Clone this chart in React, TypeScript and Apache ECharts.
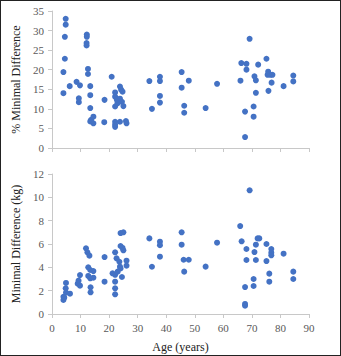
import React, { useEffect, useRef } from "react";
import * as echarts from "echarts";

const topAge = [4.8, 4.8, 4.5, 4.5, 4.0, 4.0, 6.2, 8.6, 9.8, 9.4, 9.4, 12.2, 12.2, 12.1, 12.1, 12.6, 12.6, 13.4, 13.4, 13.4, 13.7, 14.5, 14.5, 13.4, 18.4, 18.3, 20.9, 22.1, 22.1, 22.1, 22.9, 22.7, 22.1, 22.1, 22.1, 23.8, 24.2, 24.7, 23.8, 24.5, 25.0, 23.8, 25.9, 26.1, 34.1, 35.0, 37.8, 37.8, 37.8, 37.8, 45.4, 47.9, 45.4, 46.3, 46.3, 53.8, 57.8, 69.2, 66.3, 68.1, 68.1, 72.2, 75.1, 66.0, 70.9, 71.4, 75.7, 75.5, 76.5, 77.2, 76.9, 75.8, 71.4, 81.1, 84.5, 84.5, 70.6, 67.6, 70.6, 67.6];
const topPct = [33.0, 31.5, 28.4, 22.8, 19.4, 14.0, 15.8, 16.9, 16.0, 12.7, 11.7, 29.0, 28.4, 26.8, 26.2, 20.2, 18.9, 15.8, 13.5, 10.2, 7.2, 8.0, 6.3, 6.8, 12.3, 6.6, 18.2, 14.2, 13.1, 10.6, 11.4, 12.3, 6.7, 5.4, 6.0, 15.7, 14.9, 14.4, 12.6, 11.8, 10.7, 6.7, 6.9, 6.3, 17.1, 10.0, 18.2, 17.1, 13.3, 11.6, 19.4, 17.2, 15.4, 10.8, 9.0, 10.2, 16.4, 27.9, 21.7, 21.5, 20.0, 21.3, 22.8, 17.2, 18.3, 17.3, 19.5, 18.7, 18.7, 18.7, 16.7, 14.6, 14.1, 15.8, 18.5, 17.0, 10.6, 9.3, 8.0, 2.8];

const bottomAge = [4.0, 4.0, 4.3, 4.9, 4.8, 4.9, 6.3, 9.0, 9.3, 9.8, 9.8, 11.9, 12.4, 13.1, 12.7, 12.7, 13.4, 13.4, 14.5, 14.5, 13.5, 13.5, 18.4, 18.4, 22.1, 22.1, 22.1, 22.1, 22.1, 22.6, 21.2, 23.0, 23.6, 23.8, 24.0, 24.5, 24.0, 24.7, 25.0, 24.0, 25.0, 26.1, 26.1, 34.1, 35.0, 37.8, 37.8, 37.8, 45.4, 45.4, 46.1, 47.9, 46.3, 53.8, 57.8, 69.2, 65.9, 66.4, 68.1, 71.4, 72.0, 72.6, 75.1, 70.9, 76.8, 76.8, 76.8, 81.1, 68.1, 71.4, 75.1, 76.1, 76.1, 70.6, 70.6, 67.6, 84.5, 84.5, 67.6, 67.6];
const bottomKg = [1.48, 1.2, 1.4, 1.83, 2.2, 2.66, 1.74, 2.6, 2.86, 3.34, 2.43, 5.63, 5.29, 5.0, 4.0, 3.26, 3.77, 3.06, 3.68, 3.11, 2.29, 1.86, 4.88, 2.77, 5.29, 3.36, 2.77, 2.2, 1.69, 4.77, 3.49, 3.63, 4.48, 4.06, 3.91, 3.17, 5.83, 5.66, 5.46, 6.94, 7.0, 4.57, 4.14, 6.48, 4.05, 6.2, 5.9, 4.91, 7.0, 5.94, 4.65, 4.65, 3.63, 4.06, 6.11, 10.6, 7.54, 6.23, 5.57, 5.94, 6.48, 6.48, 6.0, 5.31, 5.57, 5.26, 5.03, 5.17, 4.63, 4.63, 4.54, 3.46, 2.77, 3.0, 2.4, 2.31, 3.63, 3.0, 0.86, 0.71];

const xTicks = { min: 0, max: 90, interval: 10 };
const topY = { min: 0, max: 35, interval: 5 };
const bottomY = { min: 0, max: 12, interval: 2 };

const FONT = "Liberation Serif";

export default function App() {
  const ref = useRef<HTMLDivElement>(null);
  useEffect(() => {
    if (!ref.current) return;
    const chart = echarts.init(ref.current, null, { renderer: "svg" });
    const axisLine = { show: true, lineStyle: { color: "#c8c8c8", width: 1 } };
    const axisTick = { show: true, length: 4, lineStyle: { color: "#c8c8c8" } };
    const label = { color: "#595959", fontFamily: FONT, fontSize: 11 };
    const nameStyle = { color: "#222", fontFamily: FONT, fontSize: 12 };
    chart.setOption({
      animation: false,
      grid: [
        { left: 52, top: 11, width: 257, height: 137 },
        { left: 52, top: 174, width: 257, height: 140 },
      ],
      xAxis: [
        {
          type: "value", gridIndex: 0, ...xTicks,
          axisLine, axisTick, axisLabel: { show: false }, splitLine: { show: false },
        },
        {
          type: "value", gridIndex: 1, ...xTicks,
          axisLine, axisTick, axisLabel: { ...label, margin: 8 }, splitLine: { show: false },
          name: "Age (years)", nameLocation: "middle", nameGap: 27, nameTextStyle: nameStyle,
        },
      ],
      yAxis: [
        {
          type: "value", gridIndex: 0, ...topY,
          axisLine, axisTick, axisLabel: { ...label, margin: 8 }, splitLine: { show: false },
          name: "% Minimal Difference", nameLocation: "middle", nameRotate: 90, nameGap: 27, nameTextStyle: nameStyle,
        },
        {
          type: "value", gridIndex: 1, ...bottomY,
          axisLine, axisTick, axisLabel: { ...label, margin: 8 }, splitLine: { show: false },
          name: "Minimal Difference (kg)", nameLocation: "middle", nameRotate: 90, nameGap: 27, nameTextStyle: nameStyle,
        },
      ],
      series: [
        {
          type: "scatter", xAxisIndex: 0, yAxisIndex: 0, symbolSize: 6,
          itemStyle: { color: "#4472C4", opacity: 1 },
          data: topAge.map((a, i) => [a, topPct[i]]),
        },
        {
          type: "scatter", xAxisIndex: 1, yAxisIndex: 1, symbolSize: 6,
          itemStyle: { color: "#4472C4", opacity: 1 },
          data: bottomAge.map((a, i) => [a, bottomKg[i]]),
        },
      ],
    });
    return () => chart.dispose();
  }, []);
  return (
    <div
      style={{
        position: "fixed", left: 0, top: 0, width: 341, height: 356,
        boxSizing: "border-box", border: "1px solid #222", background: "#fff",
      }}
    >
      <div ref={ref} style={{ position: "absolute", left: -1, top: -1, width: 341, height: 356 }} />
    </div>
  );
}
